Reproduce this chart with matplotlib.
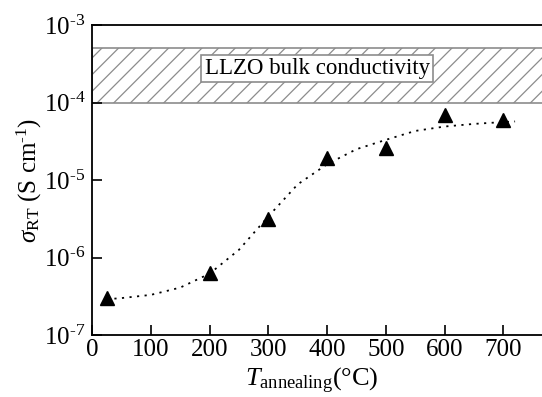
import math
import matplotlib
matplotlib.use("Agg")
import matplotlib.pyplot as plt
from matplotlib.ticker import FixedLocator, FuncFormatter, NullLocator

plt.rcParams['font.family'] = ['Liberation Serif', 'DejaVu Serif']
plt.rcParams['mathtext.fontset'] = 'custom'
plt.rcParams['mathtext.rm'] = 'Liberation Serif'
plt.rcParams['mathtext.it'] = 'Liberation Serif:italic'
plt.rcParams['hatch.linewidth'] = 0.9

# measured points
temp = [25, 200, 300, 400, 500, 600, 700]
sigma = [3.0e-7, 6.4e-7, 3.1e-6, 1.9e-5, 2.6e-5, 7.0e-5, 6.0e-5]

# fitted trend curve
fit_t = [25, 50, 100, 150, 200, 250, 300, 350, 400, 450, 500, 550, 600, 650, 700, 720]
fit_s = [2.9e-7, 3.0e-7, 3.3e-7, 4.1e-7, 6.2e-7, 1.26e-6, 3.4e-6, 8.8e-6, 1.6e-5,
         2.5e-5, 3.3e-5, 4.3e-5, 4.9e-5, 5.3e-5, 5.6e-5, 5.7e-5]

# LLZO bulk conductivity range
bulk_lo = 1e-4
bulk_hi = 5e-4

fig = plt.figure(figsize=(5.42, 3.97), dpi=100)
ax = fig.add_axes([0.170, 0.156, 0.867, 0.781])

ax.set_yscale('log')
ax.set_xlim(0, 800)
ax.set_ylim(1e-7, 1e-3)

ax.fill_between([0, 800], bulk_lo, bulk_hi, facecolor='white', edgecolor='#8c8c8c',
                hatch='//', linewidth=1.2, zorder=1)

ax.plot(fit_t, fit_s, color='black', linestyle=(0, (1.2, 3)), linewidth=1.3, zorder=2)
ax.plot(temp, sigma, linestyle='none', marker='^', color='black', markersize=9.5, zorder=3)

ax.text(383, 2.75e-4, 'LLZO bulk conductivity', fontsize=16.5, ha='center', va='center',
        bbox=dict(boxstyle='square,pad=0.15', facecolor='white', edgecolor='#8c8c8c', linewidth=1.2),
        zorder=4)

ax.xaxis.set_major_locator(FixedLocator([0, 100, 200, 300, 400, 500, 600, 700]))
ax.yaxis.set_major_locator(FixedLocator([1e-7, 1e-6, 1e-5, 1e-4, 1e-3]))
ax.yaxis.set_minor_locator(NullLocator())
# hyphen (U+2010) instead of the wide minus sign, as in the original
ax.yaxis.set_major_formatter(FuncFormatter(
    lambda v, p: '$\\mathregular{10^{\u2010%d}}$' % abs(round(math.log10(v)))))

ax.tick_params(direction='in', length=7, width=1.2, labelsize=18, pad=5)
ax.tick_params(axis='x', pad=3)
for s in ax.spines.values():
    s.set_linewidth(1.3)
ax.spines['right'].set_visible(False)

ax.set_xlabel(r'$\mathit{T}_{\mathregular{annealing}}$(°C)', fontsize=19)
ax.xaxis.set_label_coords(0.468, -0.10)
ax.set_ylabel('$\\mathit{\\sigma}_{\\mathregular{RT}}$ (S cm$^{\\mathregular{\u20101}}$)',
              fontsize=18, labelpad=0)

fig.savefig('out.png', dpi=100)
